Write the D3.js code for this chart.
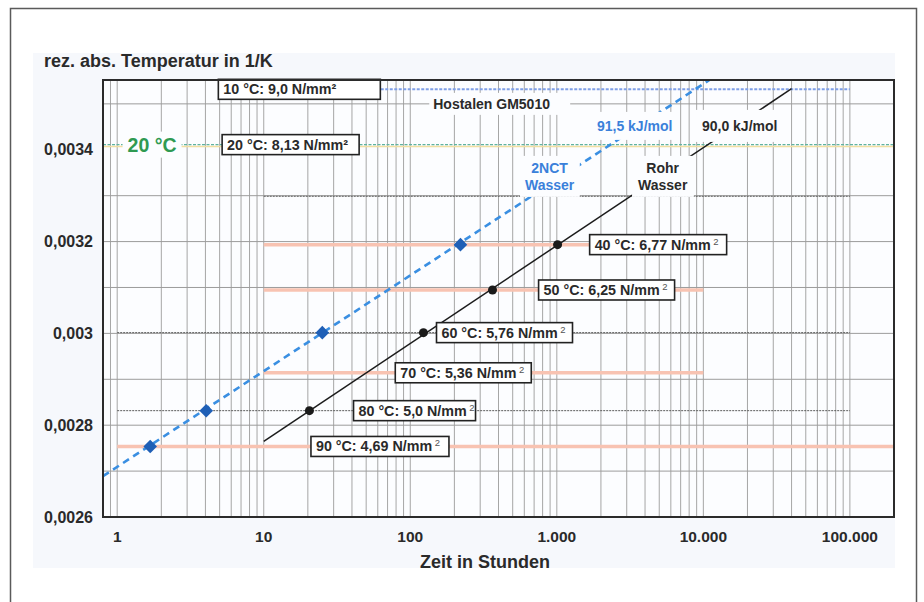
<!DOCTYPE html>
<html>
<head>
<meta charset="utf-8">
<script src="https://cdn.jsdelivr.net/npm/d3@7"></script>
<style>
  html, body { margin: 0; padding: 0; background: #fff; }
  svg { display: block; font-family: "Liberation Sans", Arial, Helvetica, sans-serif; }
</style>
</head>
<body>
<svg id="chart" width="924" height="602"></svg>
<script>
// ---------- DATA ----------
const yTicks = [0.0026, 0.0028, 0.003, 0.0032, 0.0034];
const yTickLabels = ["0,0026", "0,0028", "0,003", "0,0032", "0,0034"];
const yGridValues = [0.0027, 0.0028, 0.0029, 0.003, 0.0031, 0.0032, 0.0033, 0.0035];
const xTicks = [1, 10, 100, 1000, 10000, 100000];
const xTickLabels = ["1", "10", "100", "1.000", "10.000", "100.000"];

// temperature reference lines (°C) with their strength labels and time extents (h)
const tempC = [10, 20, 30, 40, 50, 60, 70, 80, 90];
const strengthLabels = ["9,0", "8,13", null, "6,77", "6,25", "5,76", "5,36", "5,0", "4,69"];
const tempLineStart = [10, 0.8, 10, 10, 10, 1, 10, 1, 1];
const tempLineEnd = [100000, 200000, 100000, 10000, 10000, 100000, 10000, 100000, 200000];

// measured points: 2NCT Wasser (blue) and Rohr Wasser (black)
const nctTimes = [1.68, 4.05, 25.1, 220];
const nctTemps = [90, 80, 60, 40];
const rohrTimes = [20.5, 123, 364, 1012];
const rohrTemps = [80, 60, 50, 40];

// regression lines (time in h, reciprocal temperature in 1/K)
const nctLineTimes = [0.8, 11000];
const nctLineValues = [0.002689, 0.003552];
const rohrLineTimes = [10, 40000];
const rohrLineValues = [0.002765, 0.003533];

// ---------- SETUP ----------
const invT = c => 1 / (c + 273.15);
const svg = d3.select("#chart");
const plot = { left: 103, right: 894, top: 80, bottom: 517 };

const x = d3.scaleLog().domain([0.8, 200000]).range([plot.left, plot.right]);
const y = d3.scaleLinear().domain([0.0026, 0.003552]).range([plot.bottom, plot.top]);

const textColor = "#2a2a2a";

// outer frame and background
svg.append("rect").attr("x", 10.5).attr("y", 8.5).attr("width", 906).attr("height", 620)
  .attr("fill", "#fff").attr("stroke", "#5a5a5a").attr("stroke-width", 1.5);
svg.append("rect").attr("x", 33).attr("y", 53).attr("width", 862).attr("height", 515)
  .attr("fill", "#f6f8fc");
svg.append("rect").attr("x", plot.left).attr("y", plot.top)
  .attr("width", plot.right - plot.left).attr("height", plot.bottom - plot.top)
  .attr("fill", "#fcfdff");

// ---------- GRID ----------
const minorX = [0.9];
for (let k = 0; k <= 4; k++) for (let m = 1; m <= 9; m++) minorX.push(m * Math.pow(10, k));
minorX.push(100000);

const grid = svg.append("g");
grid.selectAll("line.vx").data(minorX).join("line")
  .attr("x1", d => x(d)).attr("x2", d => x(d))
  .attr("y1", plot.top).attr("y2", plot.bottom)
  .attr("stroke", "#a6a6a6").attr("stroke-width", 1);
grid.selectAll("line.hy").data(yGridValues).join("line")
  .attr("x1", plot.left).attr("x2", plot.right)
  .attr("y1", d => y(d)).attr("y2", d => y(d))
  .attr("stroke", "#9c9c9c").attr("stroke-width", 1);

// ---------- TEMPERATURE LINES ----------
const tempStyle = {
  10: "blue", 20: "green", 30: "dark", 40: "salmon", 50: "salmon",
  60: "dark", 70: "salmon", 80: "dark", 90: "salmon"
};
const tl = svg.append("g");
tempC.forEach((c, i) => {
  const yy = y(invT(c));
  const x1 = x(tempLineStart[i]), x2 = x(tempLineEnd[i]);
  const st = tempStyle[c];
  if (st === "salmon") {
    tl.append("line").attr("x1", x1).attr("x2", x2).attr("y1", yy).attr("y2", yy)
      .attr("stroke", "#f8c3b2").attr("stroke-width", 3.5);
  } else if (st === "dark") {
    tl.append("line").attr("x1", x1).attr("x2", x2).attr("y1", yy).attr("y2", yy)
      .attr("stroke", "#5c5c5c").attr("stroke-width", 1).attr("stroke-dasharray", "2,1");
  } else if (st === "blue") {
    tl.append("line").attr("x1", x1).attr("x2", x2).attr("y1", yy).attr("y2", yy)
      .attr("stroke", "#7f9fe6").attr("stroke-width", 2).attr("stroke-dasharray", "3,1.5");
  } else if (st === "green") {
    tl.append("line").attr("x1", x1).attr("x2", x2).attr("y1", yy + 2).attr("y2", yy + 2)
      .attr("stroke", "#f1e0a2").attr("stroke-width", 1.5);
    tl.append("line").attr("x1", x1).attr("x2", x2).attr("y1", yy).attr("y2", yy)
      .attr("stroke", "#5fb3a0").attr("stroke-width", 1.4).attr("stroke-dasharray", "3,1.5");
  }
});

// ---------- REGRESSION LINES ----------
const lineGen = d3.line().x(d => x(d[0])).y(d => y(d[1]));
svg.append("path")
  .attr("d", lineGen(nctLineTimes.map((t, i) => [t, nctLineValues[i]])))
  .attr("fill", "none").attr("stroke", "#3a8fe2").attr("stroke-width", 2.6)
  .attr("stroke-dasharray", "7,5");
svg.append("path")
  .attr("d", lineGen(rohrLineTimes.map((t, i) => [t, rohrLineValues[i]])))
  .attr("fill", "none").attr("stroke", "#1c1c1c").attr("stroke-width", 1.5);

// ---------- POINTS ----------
svg.append("g").selectAll("path").data(nctTimes.map((t, i) => [t, invT(nctTemps[i])])).join("path")
  .attr("d", d3.symbol(d3.symbolSquare, 92))
  .attr("transform", d => `translate(${x(d[0])},${y(d[1])}) rotate(45)`)
  .attr("fill", "#1f5fb6");
svg.append("g").selectAll("circle").data(rohrTimes.map((t, i) => [t, invT(rohrTemps[i])])).join("circle")
  .attr("cx", d => x(d[0])).attr("cy", d => y(d[1])).attr("r", 4.5)
  .attr("fill", "#1a1a1a");

// ---------- TEXT LABELS WITH WHITE BACKGROUND ----------
function bgLabel(cx, cy, lines, opts) {
  const g = svg.append("g");
  const fs = opts.size || 14;
  const lh = opts.lineHeight || 17;
  const texts = lines.map((s, i) => g.append("text")
    .attr("x", cx).attr("y", cy + (i - (lines.length - 1) / 2) * lh)
    .attr("text-anchor", "middle").attr("dominant-baseline", "central")
    .attr("font-size", fs).attr("font-weight", "bold")
    .attr("fill", opts.color || textColor).text(s));
  let bx0 = Infinity, by0 = Infinity, bx1 = -Infinity, by1 = -Infinity;
  texts.forEach(t => {
    const b = t.node().getBBox();
    bx0 = Math.min(bx0, b.x); by0 = Math.min(by0, b.y);
    bx1 = Math.max(bx1, b.x + b.width); by1 = Math.max(by1, b.y + b.height);
  });
  const px = opts.padX || 4, py = opts.padY || 2, pr = opts.padRight || px;
  g.insert("rect", "text").attr("x", bx0 - px).attr("y", by0 - py)
    .attr("width", bx1 - bx0 + px + pr).attr("height", by1 - by0 + 2 * py)
    .attr("fill", opts.bg || "#fcfdff");
}

bgLabel(x(359), y(0.0035), ["Hostalen GM5010"], { size: 14, padX: 4, padRight: 20, padY: 3 });
bgLabel(x(3400), y(0.003452), ["91,5 kJ/mol"], { size: 14, color: "#3a80da", padX: 6, padY: 6 });
bgLabel(x(17700), y(0.003452), ["90,0 kJ/mol"], { size: 14, padX: 6, padY: 8 });
bgLabel(x(893), y(0.003342), ["2NCT", "Wasser"], { size: 14, color: "#3a80da", padX: 5, padY: 4 });
bgLabel(x(5280), y(0.003342), ["Rohr", "Wasser"], { size: 14, padX: 6, padY: 4 });
bgLabel(x(1.73), y(invT(20)), ["20 °C"], { size: 19.5, color: "#2f9a52", padX: 5, padY: 0 });

// ---------- STRENGTH BOXES ----------
const boxLayout = {
  10: { t: 4.9, w: 162 }, 20: { t: 5.2, w: 137 }, 40: { t: 1675, w: 137 },
  50: { t: 751, w: 136 }, 60: { t: 151, w: 136 }, 70: { t: 79, w: 136 },
  80: { t: 41, w: 122 }, 90: { t: 21, w: 138 }
};
tempC.forEach((c, i) => {
  const s = strengthLabels[i];
  if (!s) return;
  const L = boxLayout[c];
  const bx = x(L.t), by = y(invT(c));
  const g = svg.append("g");
  g.append("rect").attr("x", bx).attr("y", by - 10).attr("width", L.w).attr("height", 20)
    .attr("fill", "#fff").attr("stroke", "#222").attr("stroke-width", 1.6);
  const t = g.append("text").attr("x", bx + 5).attr("y", by).attr("dominant-baseline", "central")
    .attr("font-size", 14.3).attr("font-weight", "bold").attr("fill", textColor);
  if (c <= 20) {
    t.text(`${c} °C: ${s} N/mm²`);
  } else {
    t.append("tspan").text(`${c} °C: ${s} N/mm`);
    t.append("tspan").attr("dx", 2.5).attr("dy", -4).attr("font-size", 9.5)
      .attr("font-weight", "normal").attr("fill", "#555").text("2");
  }
});

// ---------- AXES ----------
svg.append("g").selectAll("text").data(yTicks).join("text")
  .attr("x", 93).attr("y", d => y(d)).attr("text-anchor", "end")
  .attr("dominant-baseline", "central").attr("font-size", 16).attr("font-weight", "bold")
  .attr("fill", textColor).text((d, i) => yTickLabels[i]);
svg.append("g").selectAll("text").data(xTicks).join("text")
  .attr("x", d => x(d)).attr("y", 536).attr("text-anchor", "middle")
  .attr("dominant-baseline", "central").attr("font-size", 15.5).attr("font-weight", "bold")
  .attr("fill", textColor).text((d, i) => xTickLabels[i]);

svg.append("text").attr("x", 44).attr("y", 67).attr("font-size", 18).attr("font-weight", "bold")
  .attr("fill", textColor).text("rez. abs. Temperatur in 1/K");
svg.append("text").attr("x", 485).attr("y", 568).attr("text-anchor", "middle")
  .attr("font-size", 18).attr("font-weight", "bold").attr("fill", textColor).text("Zeit in Stunden");

// plot frame
svg.append("rect").attr("x", plot.left).attr("y", plot.top)
  .attr("width", plot.right - plot.left).attr("height", plot.bottom - plot.top)
  .attr("fill", "none").attr("stroke", "#2b2b2b").attr("stroke-width", 2);
</script>
</body>
</html>
